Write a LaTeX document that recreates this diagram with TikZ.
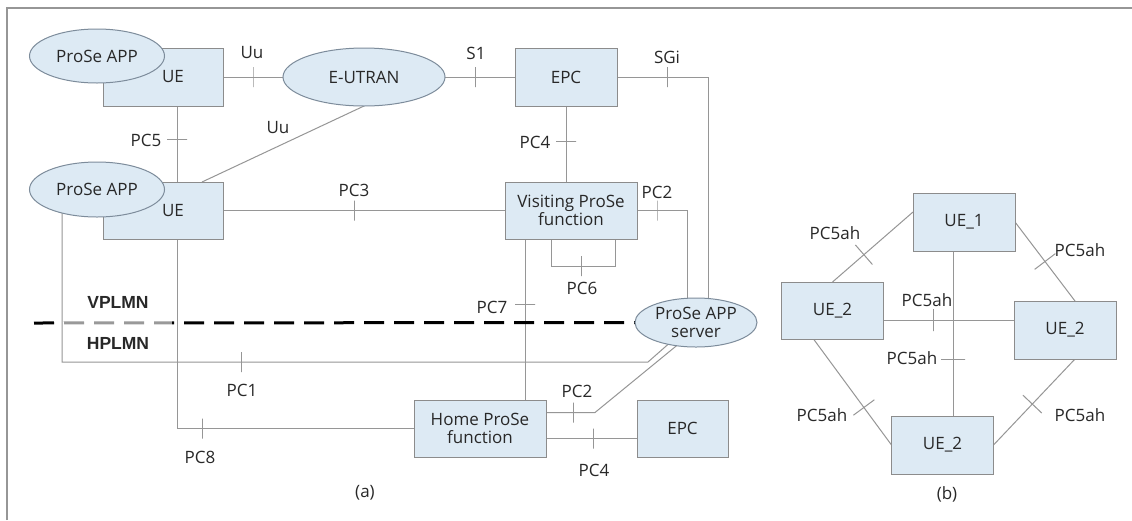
\documentclass[tikz,border=0pt]{standalone}
\usepackage{fontspec}
\setmainfont{Open Sans}
\newfontfamily\arialf{Liberation Sans}
\usetikzlibrary{shapes.geometric,backgrounds}
\definecolor{boxfill}{RGB}{221,234,244}
\definecolor{boxline}{RGB}{140,140,140}
\definecolor{ellline}{RGB}{125,140,155}
\definecolor{lc}{RGB}{150,150,150}
\definecolor{txt}{RGB}{40,40,40}
\definecolor{framec}{RGB}{150,150,150}
\begin{document}
\begin{tikzpicture}[x=1pt,y=-1pt,
  every node/.style={text=txt, font=\fontsize{17}{18}\selectfont},
  box/.style={draw=boxline, fill=boxfill, line width=1pt, inner sep=0pt, outer sep=0pt, align=center},
  oval/.style={ellipse, draw=ellline, fill=boxfill, line width=1pt, inner sep=0pt, outer sep=0pt, align=center},
  ln/.style={draw=lc, line width=1pt},
  tk/.style={draw=lc, line width=1pt, inner sep=0pt, outer sep=0pt, minimum width=0pt, minimum height=#1, sloped},
  tk/.default=20pt,
  lbl/.style={inner sep=0pt},
  net/.style={inner sep=0pt, font=\arialf\bfseries\fontsize{17.5}{18}\selectfont},
]
\useasboundingbox (0,0) rectangle (1132,520);

% ---------- (a) nodes ----------
\node[box, minimum width=120pt, minimum height=58pt] (ue1) at (163,77) {\hspace*{20pt}UE};
\node[oval, minimum width=135pt, minimum height=54pt] (app1) at (97,56) {ProSe APP};
\node[box, minimum width=120pt, minimum height=57pt] (ue2) at (163,210.5) {\hspace*{20pt}UE};
\node[oval, minimum width=135pt, minimum height=55pt] (app2) at (97,189.5) {ProSe APP};
\node[oval, minimum width=162pt, minimum height=58pt] (eutran) at (364,77) {E-UTRAN};
\node[box, minimum width=102pt, minimum height=58pt] (epc) at (566,77) {EPC};
\node[box, minimum width=132pt, minimum height=57pt] (visiting) at (571,210.5) {Visiting ProSe\\function};
\node[oval, minimum width=122pt, minimum height=49pt] (server) at (696,322.5) {ProSe APP\\server};
\node[box, minimum width=132pt, minimum height=57pt] (home) at (480,428.5) {Home ProSe\\function};
\node[box, minimum width=91pt, minimum height=57pt] (epc2) at (682.5,428.5) {EPC};

% ---------- (b) nodes ----------
\node[box, minimum width=102pt, minimum height=58pt] (ueA) at (964,222) {UE\_1};
\node[box, minimum width=102pt, minimum height=57pt] (ueL) at (832.5,310.5) {UE\_2};
\node[box, minimum width=102pt, minimum height=58pt] (ueR) at (1065,330) {UE\_2};
\node[box, minimum width=102pt, minimum height=58pt] (ueB) at (942.5,445) {UE\_2};

\coordinate (b1) at (648,362);
\coordinate (dstart) at (34,323);

\begin{scope}[on background layer]
  \fill[white] (0,0) rectangle (1132,520);
  \draw[framec, line width=1.3pt] (7,520) -- (7,8) -- (1132,8);
  % (a) connectors
  \draw[ln] (ue1.east) -- node[tk, pos=0.5]{} (eutran.west);
  \draw[ln] (eutran.east) -- node[tk, pos=0.44]{} (epc.west);
  \draw[ln] (epc.east) -| node[tk, pos=0.275]{} ([xshift=12]server.north);
  \draw[ln] ([xshift=14]ue1.south) -- node[tk, pos=0.447]{} ([xshift=14]ue2.north);
  \draw[ln] (eutran.south) -- ([xshift=39]ue2.north);
  \draw[ln] (ue2.east) -- node[tk, pos=0.465]{} (visiting.west);
  \draw[ln] (epc.south) -- node[tk, pos=0.47]{} (epc.south |- visiting.north);
  \draw[ln] (visiting.east) -| node[tk, pos=0.2]{} ([xshift=-9]server.north);
  \draw[ln] ([xshift=-20]visiting.south) -- ++(0,27) -| node[tk, pos=0.24]{} ([xshift=44]visiting.south);
  \draw[ln] ([xshift=-46]visiting.south) -- node[tk, pos=0.404]{} ([xshift=45]home.north);
  \draw[ln] ([xshift=14]ue2.south) |- node[tk, pos=0.553]{} (home.west);
  \draw[ln] (app2.214) |- node[tk, pos=0.653]{} (b1) -- (server.218);
  \draw[ln] ([yshift=16]home.east) -- node[tk, pos=0.57]{} ++(49,0) -- (server.230);
  \draw[ln] ([yshift=-10]home.east) -- node[tk, pos=0.527]{} ([yshift=-10]epc2.west);
  % boundary
  \draw[black, line width=3pt, dash pattern=on 20pt off 10pt] (dstart) -- (server.west);
  \fill[white, opacity=0.6] (64,317) rectangle (172,329);
  % (b) connectors
  \draw[ln] ([yshift=10]ueA.west) -- node[tk=26pt, pos=0.61]{} (ueL.north);
  \draw[ln] (ueA.east) -- node[tk=26pt, pos=0.5]{} ([xshift=10]ueR.north);
  \draw[ln] ([xshift=-19]ueL.south) -- node[tk=26pt, pos=0.646]{} (ueB.west);
  \draw[ln] ([xshift=10]ueR.south) -- node[tk=26pt, pos=0.524]{} (ueB.east);
  \draw[ln] ([yshift=-9.5]ueL.east) -- node[tk=22pt, pos=0.38]{} ([yshift=10]ueR.west);
  \draw[ln] ([xshift=-11]ueA.south) -- node[tk=24pt, pos=0.655]{} ([xshift=10.5]ueB.north);
\end{scope}

% ---------- labels (a) ----------
\node[lbl] (lUu1) at (252,53) {Uu};
\node[lbl] (lS1) at (476,53) {S1};
\node[lbl] (lSGi) at (667,57) {SGi};
\node[lbl] (lPC5) at (146,140) {PC5};
\node[lbl] (lUu2) at (278,128) {Uu};
\node[lbl] (lPC3) at (354,190) {PC3};
\node[lbl] (lPC4a) at (535,142) {PC4};
\node[lbl] (lPC2a) at (657,192) {PC2};
\node[lbl] (lPC6) at (582,288) {PC6};
\node[lbl] (lPC7) at (492,307) {PC7};
\node[net] (lV) at (118,302) {VPLMN};
\node[net] (lH) at (118,343) {HPLMN};
\node[lbl] (lPC1) at (242,390) {PC1};
\node[lbl] (lPC8) at (200,457) {PC8};
\node[lbl] (lPC2b) at (577,391) {PC2};
\node[lbl] (lPC4b) at (594,470) {PC4};
\node[lbl] (la) at (365,493) {(a)};

% ---------- labels (b) ----------
\node[lbl] (q1) at (835,233) {PC5ah};
\node[lbl] (q2) at (1080,250) {PC5ah};
\node[lbl] (q3) at (927,300) {PC5ah};
\node[lbl] (q4) at (912,358) {PC5ah};
\node[lbl] (q5) at (822,415) {PC5ah};
\node[lbl] (q6) at (1080,415) {PC5ah};
\node[lbl] (lb) at (947,494) {(b)};
\end{tikzpicture}
\end{document}
